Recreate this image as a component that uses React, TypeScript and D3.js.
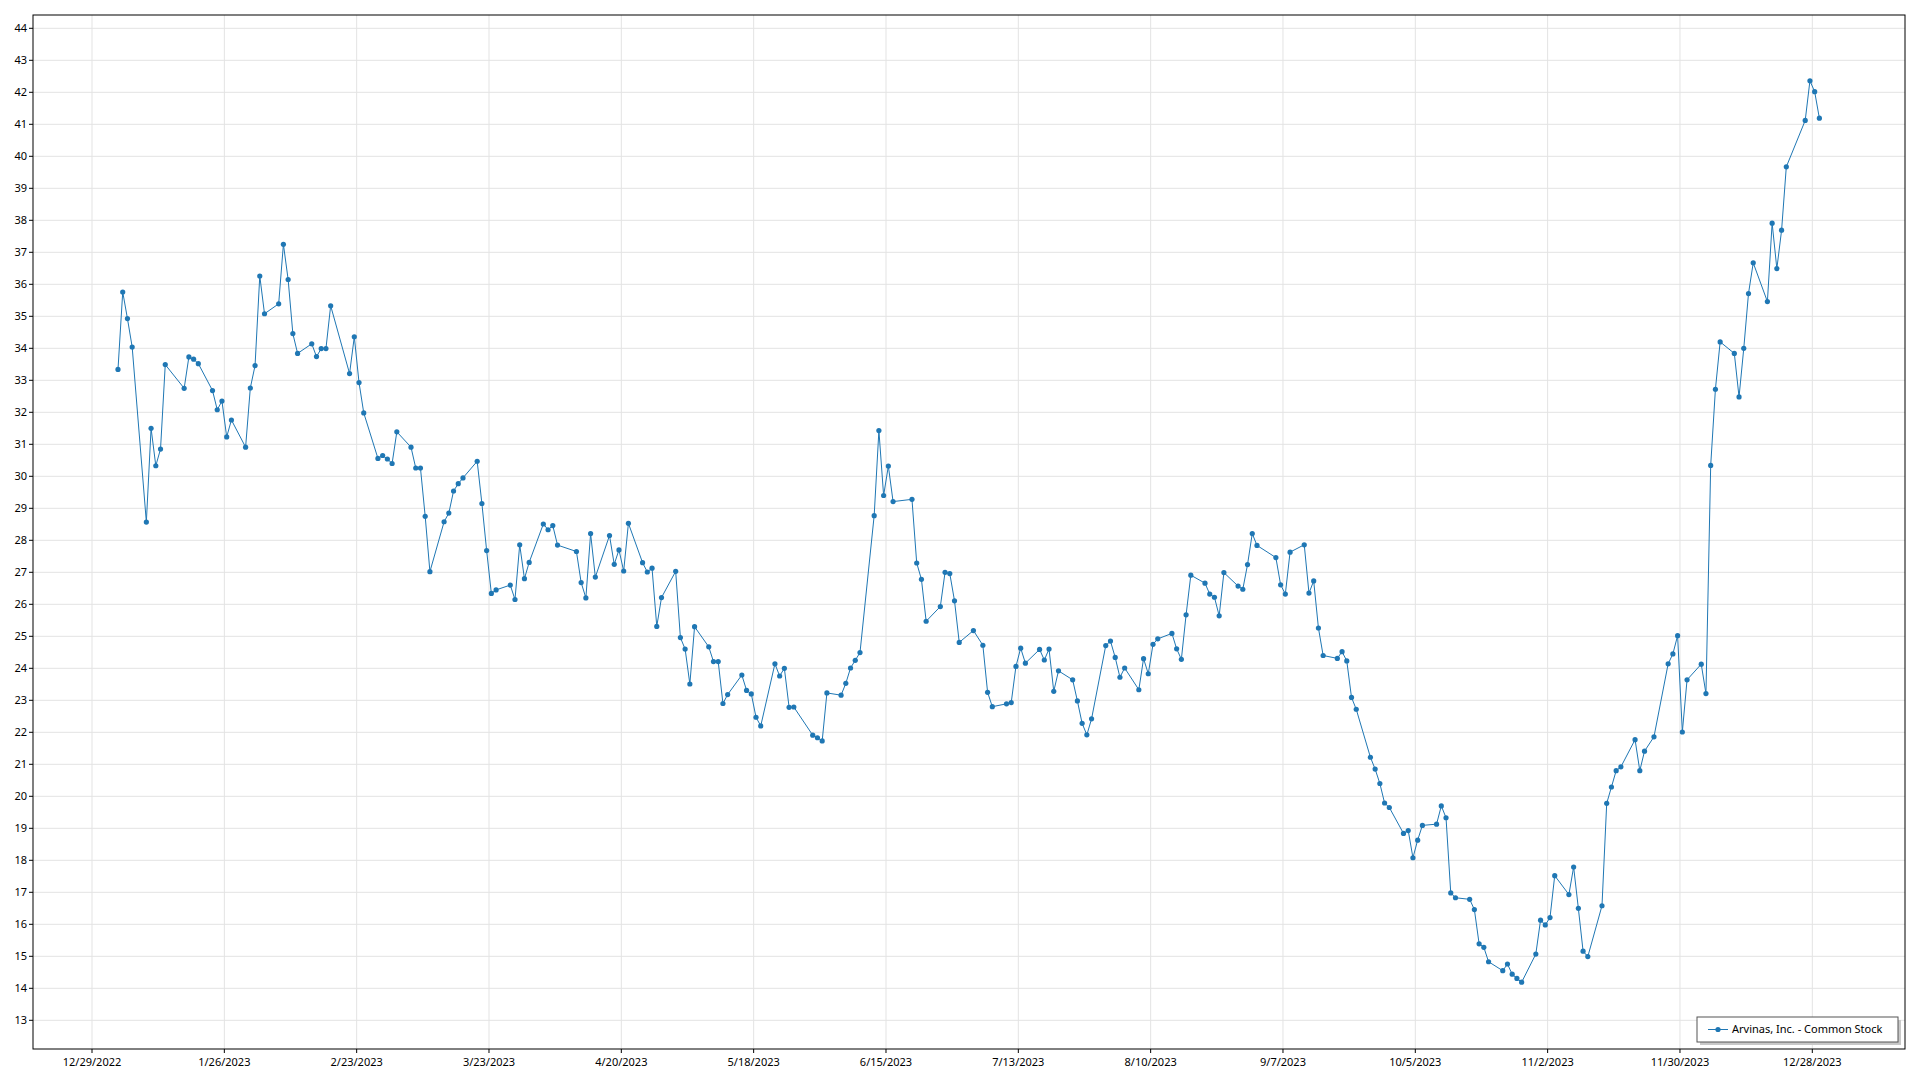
import * as d3 from "d3";

// daily closes, 2023 trading days
const tradeDates = [
  "1/3", "1/4", "1/5", "1/6", "1/9", "1/10", "1/11", "1/12", "1/13", "1/17", "1/18", "1/19", "1/20", "1/23", "1/24", "1/25", "1/26", "1/27", "1/30", "1/31",
  "2/1", "2/2", "2/3", "2/6", "2/7", "2/8", "2/9", "2/10", "2/13", "2/14", "2/15", "2/16", "2/17", "2/21", "2/22", "2/23", "2/24", "2/27", "2/28",
  "3/1", "3/2", "3/3", "3/6", "3/7", "3/8", "3/9", "3/10", "3/13", "3/14", "3/15", "3/16", "3/17", "3/20", "3/21", "3/22", "3/23", "3/24", "3/27", "3/28", "3/29", "3/30", "3/31",
  "4/3", "4/4", "4/5", "4/6", "4/10", "4/11", "4/12", "4/13", "4/14", "4/17", "4/18", "4/19", "4/20", "4/21", "4/24", "4/25", "4/26", "4/27", "4/28",
  "5/1", "5/2", "5/3", "5/4", "5/5", "5/8", "5/9", "5/10", "5/11", "5/12", "5/15", "5/16", "5/17", "5/18", "5/19", "5/22", "5/23", "5/24", "5/25", "5/26", "5/30", "5/31",
  "6/1", "6/2", "6/5", "6/6", "6/7", "6/8", "6/9", "6/12", "6/13", "6/14", "6/15", "6/16", "6/20", "6/21", "6/22", "6/23", "6/26", "6/27", "6/28", "6/29", "6/30",
  "7/3", "7/5", "7/6", "7/7", "7/10", "7/11", "7/12", "7/13", "7/14", "7/17", "7/18", "7/19", "7/20", "7/21", "7/24", "7/25", "7/26", "7/27", "7/28", "7/31",
  "8/1", "8/2", "8/3", "8/4", "8/7", "8/8", "8/9", "8/10", "8/11", "8/14", "8/15", "8/16", "8/17", "8/18", "8/21", "8/22", "8/23", "8/24", "8/25", "8/28", "8/29", "8/30", "8/31",
  "9/1", "9/5", "9/6", "9/7", "9/8", "9/11", "9/12", "9/13", "9/14", "9/15", "9/18", "9/19", "9/20", "9/21", "9/22", "9/25", "9/26", "9/27", "9/28", "9/29",
  "10/2", "10/3", "10/4", "10/5", "10/6", "10/9", "10/10", "10/11", "10/12", "10/13", "10/16", "10/17", "10/18", "10/19", "10/20", "10/23", "10/24", "10/25", "10/26", "10/27", "10/30", "10/31",
  "11/1", "11/2", "11/3", "11/6", "11/7", "11/8", "11/9", "11/10", "11/13", "11/14", "11/15", "11/16", "11/17", "11/20", "11/21", "11/22", "11/24", "11/27", "11/28", "11/29", "11/30",
  "12/1", "12/4", "12/5", "12/6", "12/7", "12/8", "12/11", "12/12", "12/13", "12/14", "12/15", "12/18", "12/19", "12/20", "12/21", "12/22", "12/26", "12/27", "12/28", "12/29",
];

const closePrices = [
  33.34, 35.76, 34.93, 34.04, 28.57, 31.5, 30.33, 30.85, 33.49, 32.75, 33.73, 33.66, 33.52, 32.68, 32.08, 32.35, 31.23, 31.76, 30.91, 32.76,
  33.46, 36.26, 35.08, 35.39, 37.25, 36.15, 34.46, 33.84, 34.14, 33.74, 33.99, 33.99, 35.33, 33.21, 34.36, 32.93, 31.98, 30.56, 30.65,
  30.54, 30.4, 31.39, 30.91, 30.26, 30.26, 28.75, 27.02, 28.58, 28.85, 29.54, 29.77, 29.95, 30.47, 29.15, 27.68, 26.34, 26.45, 26.6, 26.15, 27.86, 26.8, 27.31,
  28.51, 28.33, 28.46, 27.85, 27.65, 26.68, 26.2, 28.21, 26.85, 28.15, 27.25, 27.7, 27.04, 28.53, 27.3, 27.01, 27.13, 25.31, 26.21,
  27.03, 24.96, 24.6, 23.51, 25.3, 24.67, 24.21, 24.21, 22.9, 23.18, 23.79, 23.31, 23.2, 22.47, 22.2, 24.14, 23.76, 24.0, 22.78, 22.79, 21.91, 21.83,
  21.73, 23.23, 23.16, 23.53, 24.01, 24.25, 24.49, 28.77, 31.43, 29.4, 30.32, 29.21, 29.28, 27.29, 26.78, 25.47, 25.93, 27.0, 26.96, 26.11, 24.81,
  25.18, 24.72, 23.25, 22.8, 22.89, 22.93, 24.06, 24.63, 24.16, 24.59, 24.26, 24.6, 23.28, 23.92, 23.64, 22.98, 22.28, 21.92, 22.42, 24.71,
  24.85, 24.34, 23.72, 24.01, 23.33, 24.3, 23.83, 24.75, 24.92, 25.09, 24.61, 24.28, 25.67, 26.91, 26.66, 26.32, 26.22, 25.64, 26.99, 26.57, 26.47, 27.24, 28.21,
  27.84, 27.46, 26.61, 26.32, 27.63, 27.86, 26.35, 26.73, 25.26, 24.4, 24.31, 24.52, 24.23, 23.09, 22.72, 21.22, 20.85, 20.4, 19.79, 19.65,
  18.84, 18.93, 18.08, 18.63, 19.09, 19.13, 19.7, 19.33, 16.98, 16.83, 16.78, 16.46, 15.39, 15.28, 14.83, 14.55, 14.76, 14.44, 14.31, 14.19, 15.07, 16.13,
  15.98, 16.21, 17.52, 16.93, 17.79, 16.5, 15.16, 14.99, 16.58, 19.78, 20.29, 20.8, 20.92, 21.77, 20.8, 21.41, 21.86, 24.14, 24.45, 25.02, 22.01,
  23.64, 24.13, 23.21, 30.34, 32.72, 34.2, 33.84, 32.48, 34.0, 35.71, 36.67, 35.46, 37.91, 36.49, 37.69, 39.67, 41.12, 42.36, 42.02, 41.19,
];

const xTickLabels = [
  "12/29/2022", "1/26/2023", "2/23/2023", "3/23/2023", "4/20/2023", "5/18/2023", "6/15/2023",
  "7/13/2023", "8/10/2023", "9/7/2023", "10/5/2023", "11/2/2023", "11/30/2023", "12/28/2023",
];

const seriesName = "Arvinas, Inc. - Common Stock";

const W = 1920;
const H = 1080;
const left = 33;
const top = 15;
const right = 1905;
const bottom = 1049;
const color = "#1f77b4";
const font = "'Segoe UI', 'Noto Sans', sans-serif";

const parseMDY = d3.timeParse("%m/%d/%Y");

export default function App() {
  // points sit at midday of their trading date
  const points = tradeDates.map((d, i) => ({
    date: d3.timeHour.offset(parseMDY(d + "/2023") as Date, 12),
    close: closePrices[i],
  }));
  const ticks = xTickLabels.map((s) => ({ label: s, date: parseMDY(s) as Date }));

  // scale anchored on the first and last tick, plot frame extends past them
  const x = d3
    .scaleTime()
    .domain([ticks[0].date, ticks[ticks.length - 1].date])
    .range([92, 1812.3]);
  const y = d3.scaleLinear().domain([13, 44]).range([1020.3, 28.3]);
  const yTicks = d3.range(13, 45);

  const line = d3
    .line<{ date: Date; close: number }>()
    .x((d) => x(d.date))
    .y((d) => y(d.close));

  const lgX = 1697;
  const lgY = 1017;
  const lgW = 201;
  const lgH = 25;

  return (
    <div style={{ position: "absolute", left: 0, top: 0 }}>
      <svg width={W} height={H} style={{ display: "block", background: "#fff" }}>
        <g>
          {yTicks.map((t) => (
            <line key={"gy" + t} x1={left} x2={right} y1={y(t)} y2={y(t)} stroke="#e3e3e3" strokeWidth={1} />
          ))}
          {ticks.map((t) => (
            <line key={"gx" + t.label} x1={x(t.date)} x2={x(t.date)} y1={top} y2={bottom} stroke="#e3e3e3" strokeWidth={1} />
          ))}
        </g>
        <rect x={left} y={top} width={right - left} height={bottom - top} fill="none" stroke="#000" strokeWidth={1} />
        {yTicks.map((t) => (
          <g key={"ty" + t}>
            <line x1={left - 4} x2={left} y1={y(t)} y2={y(t)} stroke="#000" />
            <text x={left - 6} y={y(t)} dy="0.35em" textAnchor="end" fontFamily={font} fontSize={11} fill="#000">
              {t}
            </text>
          </g>
        ))}
        {ticks.map((t) => (
          <g key={"tx" + t.label}>
            <line x1={x(t.date)} x2={x(t.date)} y1={bottom} y2={bottom + 4} stroke="#000" />
            <text x={x(t.date)} y={bottom + 17} textAnchor="middle" fontFamily={font} fontSize={11} fill="#000">
              {t.label}
            </text>
          </g>
        ))}
        <path d={line(points) ?? ""} fill="none" stroke={color} strokeWidth={1} />
        {points.map((p, i) => (
          <circle key={i} cx={x(p.date)} cy={y(p.close)} r={2.6} fill={color} />
        ))}
        <g>
          <rect x={lgX + 3} y={lgY + 3} width={lgW} height={lgH} fill="#c8c8c8" />
          <rect x={lgX} y={lgY} width={lgW} height={lgH} fill="#fff" stroke="#555" strokeWidth={1} />
          <line x1={lgX + 11} x2={lgX + 31} y1={lgY + lgH / 2} y2={lgY + lgH / 2} stroke={color} strokeWidth={1} />
          <circle cx={lgX + 21} cy={lgY + lgH / 2} r={2.6} fill={color} />
          <text x={lgX + 35} y={lgY + lgH / 2} dy="0.35em" fontFamily={font} fontSize={11} fill="#000">
            {seriesName}
          </text>
        </g>
      </svg>
    </div>
  );
}
